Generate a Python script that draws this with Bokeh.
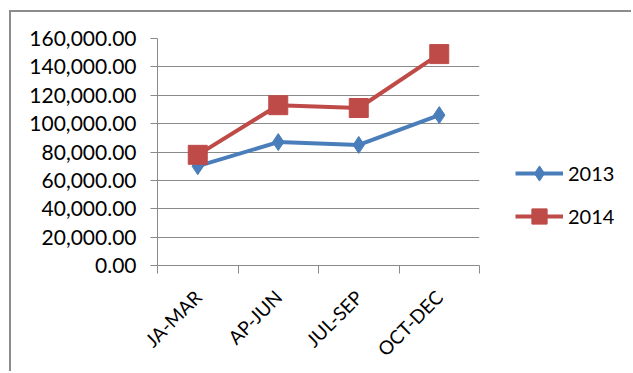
from bokeh.plotting import figure
from bokeh.layouts import row
from bokeh.models import FixedTicker, NumeralTickFormatter, Legend, LegendItem, Range1d
from bokeh.embed import file_html
from bokeh.resources import INLINE
import math

categories = ["JA-MAR", "AP-JUN", "JUL-SEP", "OCT-DEC"]
series_2013 = [70000, 87000, 85000, 106000]
series_2014 = [78000, 113000, 111000, 149000]
series_names = ["2013", "2014"]
y_ticks = [0, 20000, 40000, 60000, 80000, 100000, 120000, 140000, 160000]

xs = list(range(len(categories)))
FONT = "Lato"
GRID = "#8a8a8a"
BLUE = "#4a7ebb"
RED = "#be4b48"

p = figure(width=504, height=359, output_backend="svg", toolbar_location=None,
           x_range=Range1d(-0.5, len(categories) - 0.5), y_range=Range1d(0, 160000),
           min_border_left=146, min_border_top=26, min_border_bottom=106, min_border_right=36)
p.outline_line_color = None
p.background_fill_color = "white"
p.border_fill_color = "white"

# y axis
p.yaxis.ticker = FixedTicker(ticks=y_ticks)
p.yaxis.formatter = NumeralTickFormatter(format="0,0.00")
p.yaxis.axis_line_color = GRID
p.yaxis.major_tick_line_color = GRID
p.yaxis.major_tick_out = 7
p.yaxis.major_tick_in = 0
p.yaxis.minor_tick_line_color = None
p.yaxis.major_label_text_font = FONT
p.yaxis.major_label_text_font_size = "21px"
p.yaxis.major_label_text_color = "black"
p.yaxis.major_label_standoff = 14

# x axis
p.xaxis.ticker = FixedTicker(ticks=xs, minor_ticks=[i - 0.5 for i in range(len(categories) + 1)])
p.xaxis.major_label_overrides = {i: c for i, c in enumerate(categories)}
p.xaxis.major_label_orientation = math.pi / 4
p.xaxis.major_tick_out = 0
p.xaxis.major_tick_in = 0
p.xaxis.minor_tick_out = 8
p.xaxis.minor_tick_in = 0
p.xaxis.minor_tick_line_color = GRID
p.xaxis.axis_line_color = GRID
p.xaxis.major_label_text_font = FONT
p.xaxis.major_label_text_font_size = "19px"
p.xaxis.major_label_text_color = "black"
p.xaxis.major_label_standoff = 20

p.xgrid.grid_line_color = None
p.ygrid.ticker = FixedTicker(ticks=y_ticks)
p.ygrid.grid_line_color = GRID
p.ygrid.grid_line_width = 1

p.line(xs, series_2013, line_color=BLUE, line_width=4)
p.scatter(xs, series_2013, marker="diamond", size=17, fill_color=BLUE, line_color=BLUE)
p.line(xs, series_2014, line_color=RED, line_width=4)
p.scatter(xs, series_2014, marker="square", size=19, fill_color=RED, line_color=RED)

# legend panel (its renderers lie outside its visible range; only the legend shows)
pl = figure(width=116, height=359, output_backend="svg", toolbar_location=None,
            x_range=Range1d(-20, -10), y_range=Range1d(0, 160000),
            min_border=0, x_axis_location=None, y_axis_location=None)
pl.outline_line_color = None
pl.grid.grid_line_color = None
pl.background_fill_color = "white"
pl.border_fill_color = "white"
gl1 = pl.line(xs, series_2013, line_color=BLUE, line_width=4)
gm1 = pl.scatter(xs, series_2013, marker="diamond", size=17, fill_color=BLUE, line_color=BLUE)
gl2 = pl.line(xs, series_2014, line_color=RED, line_width=4)
gm2 = pl.scatter(xs, series_2014, marker="square", size=19, fill_color=RED, line_color=RED)

legend = Legend(items=[LegendItem(label=series_names[0], renderers=[gl1, gm1]),
                       LegendItem(label=series_names[1], renderers=[gl2, gm2])],
                location=(0, 30), padding=0, margin=0, spacing=5,
                glyph_width=48, glyph_height=38, label_height=20, label_standoff=5,
                border_line_color=None, background_fill_alpha=0,
                label_text_font=FONT, label_text_font_size="20px", label_text_color="black")
pl.add_layout(legend, "center")

layout = row(p, pl)
layout.styles = {"margin-left": "9px", "margin-top": "10px",
                 "border-left": "2px solid #8c8c8c", "border-top": "2px solid #8c8c8c"}

open("out.html", "w").write(file_html(layout, INLINE))
